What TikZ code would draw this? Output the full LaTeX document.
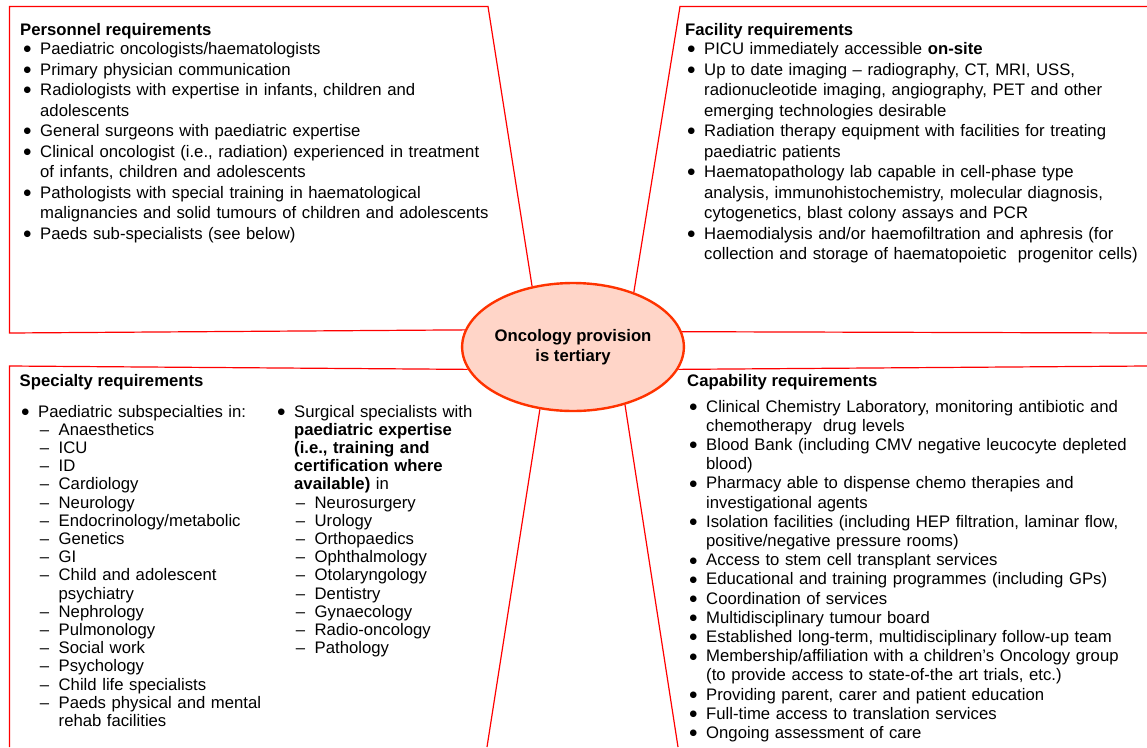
\documentclass[tikz,border=0pt]{standalone}
\usepackage{fontspec}
\setmainfont{Liberation Sans}
\newfontfamily\dejavu{DejaVu Sans}
\usetikzlibrary{shapes.geometric}
\definecolor{linered}{RGB}{255,0,0}
\definecolor{elborder}{RGB}{255,51,0}
\definecolor{elfill}{RGB}{255,213,200}
\newcommand{\bdot}{\raisebox{2.6pt}{\dejavu\fontsize{8.6}{8.6}\selectfont ●}}
\newcommand{\bul}{\leavevmode\llap{\bdot\hspace{9pt}}}
\newcommand{\dsh}{\leavevmode\hspace*{20.5pt}\llap{–\hspace{9.5pt}}}
\newcommand{\ind}{\leavevmode\hspace*{20.5pt}}
\begin{document}
\begin{tikzpicture}[x=1pt,y=-1pt,
  outline/.style={draw=linered, line width=1.2pt},
  lst/.style={anchor=base west, inner sep=0pt, align=left, text width=#1},
  lst/.default=460pt,
  head/.style={anchor=base west, inner sep=0pt, font=\bfseries\fontsize{16.7}{20}\selectfont},
  hub/.style={ellipse, draw=elborder, line width=2.4pt, fill=elfill, minimum width=184pt, minimum height=128pt, inner sep=0pt, align=center, font=\bfseries\fontsize{16.7}{19.7}\selectfont},
]
\useasboundingbox (0,0) rectangle (1147,747);

\node[hub] (c) at (573,347) {Oncology provision\\is tertiary};

% outlines
\coordinate (tlA) at (488,6.5);
\coordinate (tlB) at (9.5,6.5);
\coordinate (tlC) at (9.5,333);
\coordinate (trA) at (680,6.5);
\coordinate (trB) at (1147,6.5);
\coordinate (trC) at (1147,333);
\coordinate (blA) at (9.5,366);
\coordinate (blB) at (9.5,747);
\coordinate (blC) at (487,747);
\coordinate (brA) at (1147,366);
\coordinate (brB) at (678,747);

\draw[outline] (c.124) -- (tlA) -- (tlB) -- (tlC) -- (c.171.1);
\draw[outline] (c.42) -- (trA) -- (trB);
\draw[outline] (c.8.9) -- (trC);
\draw[outline] (c.192.2) -- (blA) -- (blB);
\draw[outline] (c.242.3) -- (blC);
\draw[outline] (c.-12.2) -- (brA);
\draw[outline] (c.-48.1) -- (brB);

% Top left
\node[head] (h1) at (20,35.5) {Personnel requirements};
\node[lst, font=\fontsize{16.7}{20.5}\selectfont] (l1) at (40,54.5) {%
\bul Paediatric oncologists/haematologists\\
\bul Primary physician communication\\
\bul Radiologists with expertise in infants, children and\\
adolescents\\
\bul General surgeons with paediatric expertise\\
\bul Clinical oncologist (i.e., radiation) experienced in treatment\\
of infants, children and adolescents\\
\bul Pathologists with special training in haematological\\
malignancies and solid tumours of children and adolescents\\
\bul Paeds sub-specialists (see below)};

% Top right
\node[head] (h2) at (685,35.5) {Facility requirements};
\node[lst, font=\fontsize{16.7}{20.5}\selectfont] (l2) at (704,54.5) {%
\bul PICU immediately accessible \textbf{on-site}\\
\bul Up to date imaging – radiography, CT, MRI, USS,\\
radionucleotide imaging, angiography, PET and other\\
emerging technologies desirable\\
\bul Radiation therapy equipment with facilities for treating\\
paediatric patients\\
\bul Haematopathology lab capable in cell-phase type\\
analysis, immunohistochemistry, molecular diagnosis,\\
cytogenetics, blast colony assays and PCR\\
\bul Haemodialysis and/or haemofiltration and aphresis (for\\
collection and storage of haematopoietic\ \ progenitor cells)};

% Bottom left
\node[head] (h3) at (19.5,386) {Specialty requirements};
\node[lst=240pt, font=\fontsize{16.7}{18.2}\selectfont] (l3) at (38,417) {%
\bul Paediatric subspecialties in:\\
\dsh Anaesthetics\\
\dsh ICU\\
\dsh ID\\
\dsh Cardiology\\
\dsh Neurology\\
\dsh Endocrinology/metabolic\\
\dsh Genetics\\
\dsh GI\\
\dsh Child and adolescent\\
\ind psychiatry\\
\dsh Nephrology\\
\dsh Pulmonology\\
\dsh Social work\\
\dsh Psychology\\
\dsh Child life specialists\\
\dsh Paeds physical and mental\\
\ind rehab facilities};
\node[lst=240pt, font=\fontsize{16.7}{18.2}\selectfont] (l4) at (294,417) {%
\bul Surgical specialists with\\
\textbf{paediatric expertise}\\
\textbf{(i.e., training and}\\
\textbf{certification where}\\
\textbf{available)} in\\
\dsh Neurosurgery\\
\dsh Urology\\
\dsh Orthopaedics\\
\dsh Ophthalmology\\
\dsh Otolaryngology\\
\dsh Dentistry\\
\dsh Gynaecology\\
\dsh Radio-oncology\\
\dsh Pathology};

% Bottom right
\node[head] (h4) at (687,386) {Capability requirements};
\node[lst, font=\fontsize{16.7}{19.2}\selectfont] (l5) at (706,412) {%
\bul Clinical Chemistry Laboratory, monitoring antibiotic and\\
chemotherapy\ \ drug levels\\
\bul Blood Bank (including CMV negative leucocyte depleted\\
blood)\\
\bul Pharmacy able to dispense chemo therapies and\\
investigational agents\\
\bul Isolation facilities (including HEP filtration, laminar flow,\\
positive/negative pressure rooms)\\
\bul Access to stem cell transplant services\\
\bul Educational and training programmes (including GPs)\\
\bul Coordination of services\\
\bul Multidisciplinary tumour board\\
\bul Established long-term, multidisciplinary follow-up team\\
\bul Membership/affiliation with a children’s Oncology group\\
(to provide access to state-of-the art trials, etc.)\\
\bul Providing parent, carer and patient education\\
\bul Full-time access to translation services\\
\bul Ongoing assessment of care};
\end{tikzpicture}
\end{document}
